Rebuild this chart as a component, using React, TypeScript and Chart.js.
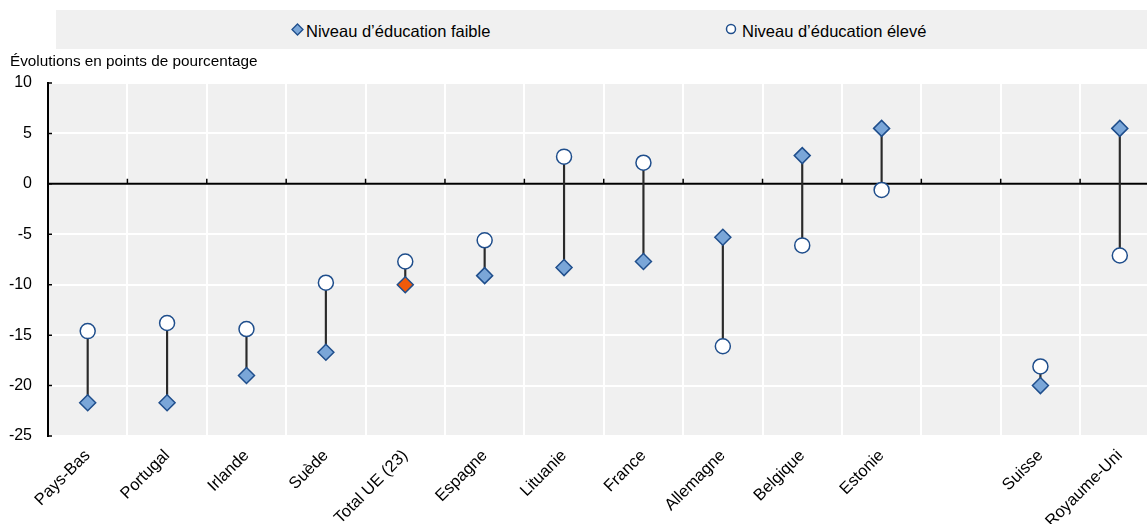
import React, { useEffect, useRef } from 'react';
import { Chart, registerables } from 'chart.js';

Chart.register(...registerables);

const categories = [
  'Pays-Bas', 'Portugal', 'Irlande', 'Suède', 'Total UE (23)', 'Espagne', 'Lituanie',
  'France', 'Allemagne', 'Belgique', 'Estonie', '', 'Suisse', 'Royaume-Uni',
];
const lowEducation = [-21.7, -21.7, -19.0, -16.7, -10.0, -9.1, -8.3, -7.7, -5.3, 2.8, 5.5, null, -20.0, 5.5];
const highEducation = [-14.6, -13.8, -14.4, -9.8, -7.7, -5.6, 2.7, 2.1, -16.1, -6.1, -0.6, null, -18.1, -7.1];
const highlightCategory = 'Total UE (23)';
const yMin = -25;
const yMax = 10;
const yStep = 5;
const legendLabels = ['Niveau d’éducation faible', 'Niveau d’éducation élevé'];
const yAxisTitle = 'Évolutions en points de pourcentage';

const FONT = '"Liberation Sans", Arial, sans-serif';
const DARK_BLUE = '#1f4e8c';
const LIGHT_BLUE = '#7aa6d8';
const ORANGE = '#f05a0a';
const BG = '#f0f0f0';

const decor = {
  id: 'decor',
  beforeDraw(chart: any) {
    const { ctx, chartArea } = chart;
    ctx.save();
    ctx.fillStyle = BG;
    ctx.fillRect(chartArea.left, chartArea.top, chartArea.right - chartArea.left, chartArea.bottom - chartArea.top);
    ctx.restore();
  },
  beforeDatasetsDraw(chart: any) {
    const { ctx, chartArea, scales } = chart;
    const x = scales.x;
    const y = scales.y;
    const y0 = y.getPixelForValue(0);
    ctx.save();
    ctx.strokeStyle = '#000';
    ctx.lineWidth = 2;
    ctx.beginPath();
    ctx.moveTo(chartArea.left, y0);
    ctx.lineTo(chartArea.right, y0);
    ctx.stroke();
    ctx.lineWidth = 1.5;
    ctx.beginPath();
    for (let i = 1; i < categories.length; i++) {
      const bx = (x.getPixelForValue(i - 1) + x.getPixelForValue(i)) / 2;
      ctx.moveTo(bx, y0);
      ctx.lineTo(bx, y0 - 5);
    }
    for (let v = yMin; v <= yMax; v += yStep) {
      const py = y.getPixelForValue(v);
      ctx.moveTo(chartArea.left, py);
      ctx.lineTo(chartArea.left + 4, py);
    }
    ctx.stroke();
    ctx.restore();
  },
};

export default function App() {
  const ref = useRef<HTMLCanvasElement | null>(null);

  useEffect(() => {
    if (!ref.current) return;
    const ranges = categories.map((_, i) =>
      lowEducation[i] == null || highEducation[i] == null ? null : [lowEducation[i], highEducation[i]]
    );
    const chart = new Chart(ref.current, {
      type: 'bar',
      data: {
        labels: categories,
        datasets: [
          {
            type: 'line',
            label: legendLabels[0],
            data: lowEducation,
            showLine: false,
            pointStyle: 'rectRot',
            pointRadius: 8,
            pointBorderWidth: 1.5,
            pointBorderColor: DARK_BLUE,
            pointBackgroundColor: categories.map((c) => (c === highlightCategory ? ORANGE : LIGHT_BLUE)),
            order: 1,
          } as any,
          {
            type: 'line',
            label: legendLabels[1],
            data: highEducation,
            showLine: false,
            pointStyle: 'circle',
            pointRadius: 7.5,
            pointBorderWidth: 1.5,
            pointBorderColor: DARK_BLUE,
            pointBackgroundColor: '#ffffff',
            order: 2,
          } as any,
          {
            type: 'bar',
            label: 'range',
            data: ranges as any,
            backgroundColor: '#2a2a2a',
            barThickness: 1.5,
            order: 3,
          } as any,
        ],
      },
      options: {
        responsive: false,
        animation: false,
        events: [],
        layout: { padding: { top: 83, left: 0, right: 2, bottom: 0 } },
        plugins: {
          legend: { display: false },
          tooltip: { enabled: false },
          title: { display: false },
        },
        scales: {
          x: {
            offset: true,
            border: { display: false },
            grid: { offset: true, color: '#ffffff', lineWidth: 2, drawTicks: false },
            ticks: {
              autoSkip: false,
              maxRotation: 45,
              minRotation: 45,
              padding: 10,
              color: '#000',
              font: { family: FONT, size: 16.5 },
            },
            afterFit: (s: any) => { s.height = 88; },
          },
          y: {
            min: yMin,
            max: yMax,
            border: { display: true, color: '#000', width: 2 },
            grid: { color: '#ffffff', lineWidth: 2, drawTicks: false },
            ticks: {
              stepSize: yStep,
              padding: 16,
              color: '#000',
              font: { family: FONT, size: 16 },
            },
            afterFit: (s: any) => { s.width = 48; },
          },
        },
      },
      plugins: [decor],
    });
    return () => chart.destroy();
  }, []);

  const textStyle: React.CSSProperties = {
    position: 'absolute',
    fontFamily: FONT,
    fontSize: 16.5,
    lineHeight: '19px',
    color: '#000',
    whiteSpace: 'nowrap',
  };

  return (
    <div style={{ position: 'absolute', left: 0, top: 0, width: 1147, height: 524, overflow: 'hidden', background: '#fff' }}>
      <canvas ref={ref} width={1169} height={524} style={{ position: 'absolute', left: 0, top: 0 }} />
      <div style={{ position: 'absolute', left: 56, top: 10, width: 1091, height: 39, background: BG }}>
        <svg style={{ position: 'absolute', left: 235, top: 13 }} width="13" height="13">
          <polygon points="6.5,1 12,6.5 6.5,12 1,6.5" fill={LIGHT_BLUE} stroke={DARK_BLUE} strokeWidth="1.3" />
        </svg>
        <div style={{ ...textStyle, left: 250, top: 12 }}>{legendLabels[0]}</div>
        <svg style={{ position: 'absolute', left: 669, top: 13 }} width="12" height="12">
          <circle cx="6" cy="6" r="4.5" fill="#fff" stroke={DARK_BLUE} strokeWidth="1.5" />
        </svg>
        <div style={{ ...textStyle, left: 686, top: 12 }}>{legendLabels[1]}</div>
      </div>
      <div style={{ ...textStyle, fontSize: 15.3, lineHeight: '17px', left: 10, top: 52 }}>{yAxisTitle}</div>
    </div>
  );
}
